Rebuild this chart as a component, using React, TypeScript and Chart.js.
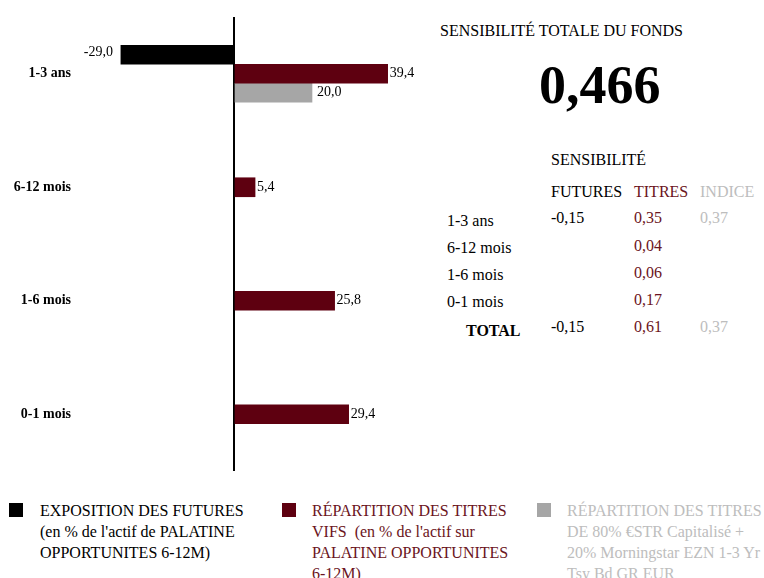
import React, { useEffect, useRef } from "react";
import { Chart, registerables } from "chart.js";

Chart.register(...registerables);

// ---------- DATA ----------
const categories = ["1-3 ans", "6-12 mois", "1-6 mois", "0-1 mois"];
const futuresExposure: (number | null)[] = [-29.0, null, null, null];
const titresRepartition: (number | null)[] = [39.4, 5.4, 25.8, 29.4];
const indiceRepartition: (number | null)[] = [20.0, null, null, null];

const totalTitle = "SENSIBILITÉ TOTALE DU FONDS";
const totalValue = "0,466";
const tableTitle = "SENSIBILITÉ";
const tableHeaders = ["FUTURES", "TITRES", "INDICE"];
const tableRows = ["1-3 ans", "6-12 mois", "1-6 mois", "0-1 mois"];
const sensFutures = ["-0,15", "", "", ""];
const sensTitres = ["0,35", "0,04", "0,06", "0,17"];
const sensIndice = ["0,37", "", "", ""];
const totalLabel = "TOTAL";
const sensTotals = ["-0,15", "0,61", "0,37"];

const legendFutures = ["EXPOSITION DES FUTURES", "(en % de l'actif de PALATINE", "OPPORTUNITES 6-12M)"];
const legendTitres = ["RÉPARTITION DES TITRES", "VIFS  (en % de l'actif sur", "PALATINE OPPORTUNITES", "6-12M)"];
const legendIndice = ["RÉPARTITION DES TITRES", "DE 80% €STR Capitalisé +", "20% Morningstar EZN 1-3 Yr", "Tsy Bd GR EUR"];

// ---------- STYLE ----------
const BLACK = "#000000";
const BORDEAUX = "#5E0010";
const BORDEAUX_TEXT = "#6B1421";
const GRAY = "#A6A6A6";
const GRAY_TEXT = "#BDBDBD";
const SERIF = "'Liberation Serif', 'Times New Roman', serif";

const fmt = (v: number) => v.toFixed(1).replace(".", ",");

const barLabels = {
  id: "barLabels",
  afterDatasetsDraw(chart: any) {
    const ctx = chart.ctx;
    ctx.save();
    ctx.font = `14px ${SERIF}`;
    ctx.fillStyle = "#000";
    ctx.textBaseline = "middle";
    chart.data.datasets.forEach((ds: any, di: number) => {
      const meta = chart.getDatasetMeta(di);
      meta.data.forEach((el: any, i: number) => {
        const v = ds.data[i];
        if (v == null) return;
        const txt = fmt(v);
        if (v < 0) {
          ctx.textAlign = "right";
          ctx.fillText(txt, el.x - 8, el.y - 2);
        } else {
          ctx.textAlign = "left";
          ctx.fillText(txt, el.x + (di === 2 ? 5 : 2), el.y);
        }
      });
    });
    ctx.restore();
  },
};

function ChartCanvas() {
  const ref = useRef<HTMLCanvasElement | null>(null);
  useEffect(() => {
    if (!ref.current) return;
    const chart = new Chart(ref.current, {
      type: "bar",
      data: {
        labels: categories,
        datasets: [
          { label: legendFutures[0], data: futuresExposure, backgroundColor: BLACK },
          { label: legendTitres[0], data: titresRepartition, backgroundColor: BORDEAUX },
          { label: legendIndice[0], data: indiceRepartition, backgroundColor: GRAY },
        ],
      },
      options: {
        indexAxis: "y",
        animation: false,
        responsive: true,
        maintainAspectRatio: false,
        layout: { padding: { top: 17, bottom: 9, left: 0, right: 1 } },
        datasets: { bar: { barThickness: 19, skipNull: true } } as any,
        plugins: { legend: { display: false }, tooltip: { enabled: false } },
        scales: {
          x: {
            min: -40,
            max: 50,
            afterFit: (s: any) => {
              s.height = 0;
              s.paddingLeft = 0;
              s.paddingRight = 0;
            },
            ticks: { display: false, stepSize: 10 },
            border: { display: false },
            grid: {
              drawTicks: false,
              lineWidth: 2,
              color: (c: any) => (c.tick && c.tick.value === 0 ? "#000" : "rgba(0,0,0,0)"),
            },
          },
          y: {
            afterFit: (s: any) => {
              s.width = 78;
              s.paddingTop = 0;
              s.paddingBottom = 0;
            },
            border: { display: false },
            grid: { display: false, drawTicks: false },
            ticks: {
              padding: 7,
              color: "#000",
              font: { family: SERIF, size: 14, weight: "bold" },
            },
          },
        },
      },
      plugins: [barLabels],
    });
    return () => chart.destroy();
  }, []);
  return (
    <div style={{ position: "absolute", left: 0, top: 0, width: 430, height: 480 }}>
      <canvas ref={ref} />
    </div>
  );
}

const T = (props: {
  x: number;
  cy: number;
  size?: number;
  bold?: boolean;
  color?: string;
  children: React.ReactNode;
}) => {
  const size = props.size ?? 16;
  return (
    <div
      style={{
        position: "absolute",
        left: props.x,
        top: props.cy - size / 2,
        fontFamily: SERIF,
        fontSize: size,
        lineHeight: `${size}px`,
        fontWeight: props.bold ? "bold" : "normal",
        color: props.color ?? "#000",
        whiteSpace: "pre",
      }}
    >
      {props.children}
    </div>
  );
};

function LegendItem(props: { x: number; textX: number; color: string; textColor: string; lines: string[] }) {
  return (
    <>
      <div
        style={{
          position: "absolute",
          left: props.x,
          top: 503,
          width: 14,
          height: 14,
          background: props.color,
        }}
      />
      {props.lines.map((l, i) => (
        <T key={i} x={props.textX} cy={511 + i * 21} color={props.textColor}>
          {l}
        </T>
      ))}
    </>
  );
}

export default function App() {
  const rowCy = [221, 248, 275, 302];
  const valCy = [218, 246, 273, 300];
  return (
    <div
      style={{
        position: "absolute",
        left: 0,
        top: 0,
        width: 764,
        height: 578,
        overflow: "hidden",
        background: "#fff",
      }}
    >
      <ChartCanvas />

      <T x={440} cy={31}>{totalTitle}</T>
      <T x={539} cy={85} size={54} bold>
        {totalValue}
      </T>

      <T x={551} cy={160}>{tableTitle}</T>
      <T x={551} cy={192}>{tableHeaders[0]}</T>
      <T x={634} cy={192} color={BORDEAUX_TEXT}>{tableHeaders[1]}</T>
      <T x={700} cy={192} color={GRAY_TEXT}>{tableHeaders[2]}</T>

      {tableRows.map((r, i) => (
        <React.Fragment key={r}>
          <T x={447} cy={rowCy[i]}>{r}</T>
          {sensFutures[i] && <T x={551} cy={valCy[i]}>{sensFutures[i]}</T>}
          {sensTitres[i] && (
            <T x={634} cy={valCy[i]} color={BORDEAUX_TEXT}>
              {sensTitres[i]}
            </T>
          )}
          {sensIndice[i] && (
            <T x={700} cy={valCy[i]} color={GRAY_TEXT}>
              {sensIndice[i]}
            </T>
          )}
        </React.Fragment>
      ))}
      <T x={466} cy={331} bold>{totalLabel}</T>
      <T x={551} cy={327}>{sensTotals[0]}</T>
      <T x={634} cy={327} color={BORDEAUX_TEXT}>{sensTotals[1]}</T>
      <T x={700} cy={327} color={GRAY_TEXT}>{sensTotals[2]}</T>

      <LegendItem x={9} textX={40} color={BLACK} textColor="#000" lines={legendFutures} />
      <LegendItem x={282} textX={312} color={BORDEAUX} textColor={BORDEAUX_TEXT} lines={legendTitres} />
      <LegendItem x={537} textX={567} color={GRAY} textColor={GRAY_TEXT} lines={legendIndice} />
    </div>
  );
}
